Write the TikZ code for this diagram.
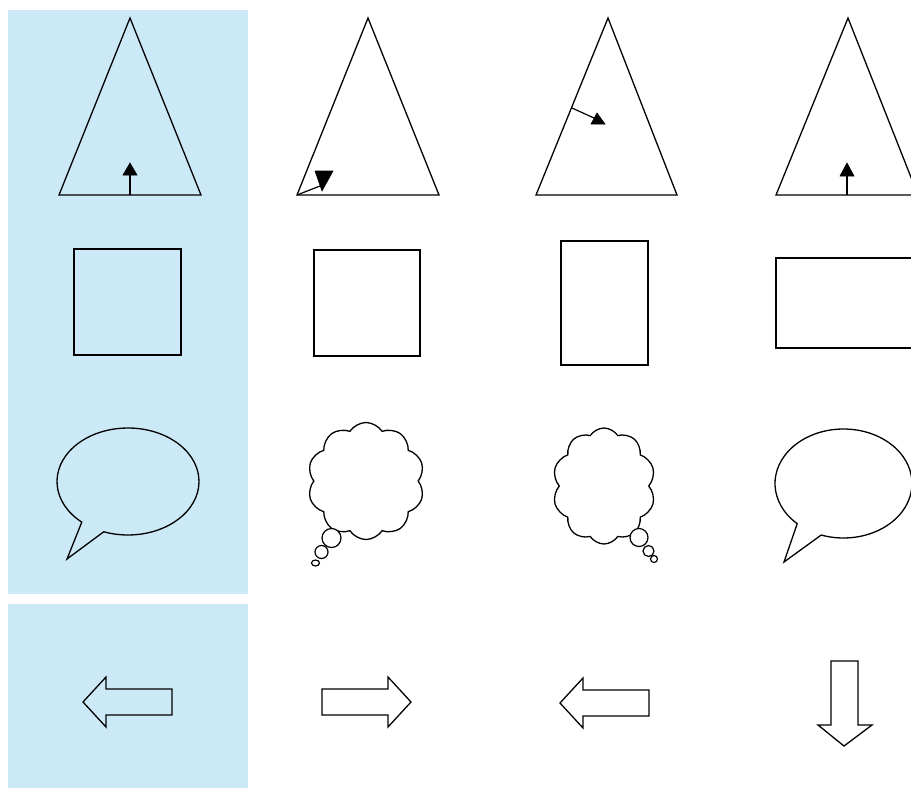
\documentclass[tikz,border=0pt]{standalone}
\usetikzlibrary{shapes.symbols}
\definecolor{panelblue}{RGB}{204,233,248}
\tikzset{
  outl/.style={draw=black, line width=1.3pt, line join=miter},
  headfill/.style={fill=black, draw=black, line width=0.6pt},
  cloudbody/.style={cloud, draw=black, line width=1.3pt, fill=white, cloud puffs=10, cloud puff arc=115, cloud ignores aspect, inner sep=0pt},
  puff/.style={draw=black, line width=1.2pt, fill=white},
}
\begin{document}
\begin{tikzpicture}[x=1pt, y=1pt, yscale=-1]
\useasboundingbox (0,0) rectangle (911,788);
\clip (0,0) rectangle (911,788);
% blue panels
\fill[panelblue] (8,10) rectangle (248,594);
\fill[panelblue] (8,604) rectangle (248,788);

% ---- row 1: triangles with arrows
\draw[outl] (130,18) -- (59,195) -- (201,195) -- cycle;
\draw[line width=1.2pt] (130,195) -- (130,175);
\fill[headfill] (130,163) -- (137,175) -- (123,175) -- cycle;

\draw[outl] (368,18) -- (297,195) -- (439,195) -- cycle;
\draw[line width=1.2pt] (297,195) -- (320,186);
\fill[headfill] (315,171) -- (333,171) -- (322,191) -- cycle;

\draw[outl] (608,18) -- (536,195) -- (677,195) -- cycle;
\draw[line width=1.2pt] (572,108) -- (594,118);
\fill[headfill] (591,124) -- (605,124) -- (597,113) -- cycle;

\draw[outl] (848,18) -- (776,195) -- (918,195) -- cycle;
\draw[line width=1.2pt] (847,195) -- (847,176);
\fill[headfill] (847,163) -- (854,176) -- (840,176) -- cycle;

% ---- row 2: rectangles
\draw[outl] (74,249) rectangle (181,355);
\draw[outl] (314,250) rectangle (420,356);
\draw[outl] (561,241) rectangle (648,365);
\draw[outl] (776,258) rectangle (930,348);

% ---- row 3: speech bubbles and thought clouds
\draw[outl] ([shift={(130.6:71 and 53.5)}]128,481.5)
  arc[start angle=130.6, end angle=470, x radius=71, y radius=53.5]
  -- (67,559) -- cycle;

\node[cloudbody, minimum width=117pt, minimum height=117pt] (cloudA) at (366,481) {};
\draw[puff] (331.5,538) circle[radius=9.5];
\draw[puff] (321.5,552) circle[radius=6.5];
\draw[puff] (315.5,563) ellipse[x radius=4, y radius=3];

\node[cloudbody, minimum width=103pt, minimum height=116pt] (cloudB) at (604,486) {};
\draw[puff] (639,537.5) circle[radius=9];
\draw[puff] (648.5,551) circle[radius=5.5];
\draw[puff] (654,559) circle[radius=3.5];

\draw[outl] ([shift={(132.5:68.5 and 54.5)}]843.5,483.5)
  arc[start angle=132.5, end angle=469, x radius=68.5, y radius=54.5]
  -- (784,562) -- cycle;

% ---- row 4: block arrows
\draw[outl] (83,702) -- (106,677) -- (106,689) -- (172,689) -- (172,715) -- (106,715) -- (106,727) -- cycle;
\draw[outl] (411,702) -- (388,677) -- (388,689) -- (322,689) -- (322,715) -- (388,715) -- (388,727) -- cycle;
\draw[outl] (560,703) -- (583,678) -- (583,690) -- (649,690) -- (649,716) -- (583,716) -- (583,728) -- cycle;
\draw[outl] (844,746) -- (818,725) -- (831,725) -- (831,661) -- (858,661) -- (858,725) -- (872,725) -- cycle;
\end{tikzpicture}
\end{document}
